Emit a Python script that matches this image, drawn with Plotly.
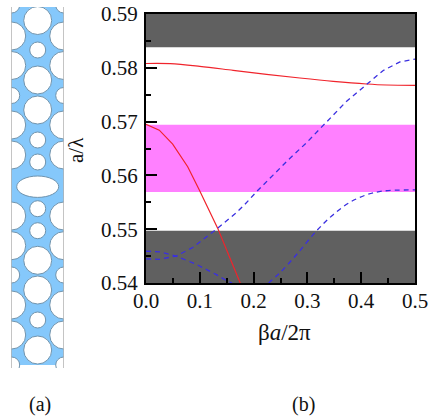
import plotly.graph_objects as go

# ---- panel (b): dispersion diagram ----
x_ticks = [0.0, 0.1, 0.2, 0.3, 0.4, 0.5]
x_tick_labels = ["0.0", "0.1", "0.2", "0.3", "0.4", "0.5"]
y_ticks = [0.54, 0.55, 0.56, 0.57, 0.58, 0.59]
y_tick_labels = ["0.54", "0.55", "0.56", "0.57", "0.58", "0.59"]

red_upper_x = [0, .045, .1, .162, .224, .286, .348, .41, .447, .5]
red_upper_y = [.5808, .58077, .58027, .57953, .57879, .5781, .57748, .57699, .5768, .57674]

red_lower_x = [0, .0247, .0496, .0775, .0991, .1165, .1332, .1537, .1747, .178]
red_lower_y = [.5695, .5684, .5658, .5616, .5573, .5537, .5502, .5452, .5401, .5393]

blue_rise_x = [0, .0247, .0558, .0868, .1332, .1673, .1827, .2057, .2367, .2646, .2986, .3327, .373, .41, .441, .472, .5]
blue_rise_y = [.5445, .5444, .545, .5466, .5502, .553, .5545, .557, .5601, .5629, .5661, .5697, .5738, .5769, .5795, .5811, .5816]

blue_fall_x = [0, .0247, .0558, .0929, .1301, .1487, .16]
blue_fall_y = [.5459, .5458, .545, .5435, .5416, .5405, .54]

blue_upper_x = [.228, .2336, .249, .28, .317, .348, .379, .41, .441, .5]
blue_upper_y = [.54, .5405, .5419, .5453, .5497, .5527, .555, .5564, .5571, .5573]

dark_bands = [(.54, .5497), (.5838, .59)]
gap_band = (.5569, .5694)

# ---- panel (a): photonic-crystal strip, in its own unit frame ----
strip_x = [11, 64]
strip_y = [7, 368]
strip_fill_end = 365
centre_x = 37.7
side_x = [11.7, 63.7]
big_centre_y = [20.5, 80, 110, 260.3, 290, 350]
small_centre_y = [50, 140, 162, 208.7, 230.7, 320]
big_side_y = [36, 65.5, 125, 155, 216, 245.7, 305, 335]
small_side_y = [5, 95.5, 275, 365]
ellipse_y = 186.7
big_r, small_r, ellipse_rx, ellipse_ry = 14, 8, 21, 10.7

W, H = 429, 418
SERIF = "Liberation Serif"
HOLE_LINE = dict(color="#6f93ad", width=1)

shapes = []
for lo, hi in dark_bands:
    shapes.append(dict(type="rect", xref="x", yref="y", x0=0, x1=.5, y0=lo, y1=hi,
                       fillcolor="#606060", line_width=0, layer="below"))
shapes.append(dict(type="rect", xref="x", yref="y", x0=0, x1=.5, y0=gap_band[0], y1=gap_band[1],
                   fillcolor="#ff80ff", line_width=0, layer="below"))

shapes.append(dict(type="rect", xref="x2", yref="y2", x0=strip_x[0], x1=strip_x[1],
                   y0=strip_y[0], y1=strip_fill_end, fillcolor="#85c8fb", line_width=0, layer="below"))


def ellipse(cx, cy, rx, ry):
    return dict(type="circle", xref="x2", yref="y2", x0=cx - rx, x1=cx + rx,
                y0=cy - ry, y1=cy + ry, fillcolor="white", line=HOLE_LINE, layer="below")


for cy in big_centre_y:
    shapes.append(ellipse(centre_x, cy, big_r, big_r))
for cy in small_centre_y:
    shapes.append(ellipse(centre_x, cy, small_r, small_r))
for sx in side_x:
    for cy in big_side_y:
        shapes.append(ellipse(sx, cy, big_r, big_r))
    for cy in small_side_y:
        shapes.append(ellipse(sx, cy, small_r, small_r))
shapes.append(ellipse(centre_x, ellipse_y, ellipse_rx, ellipse_ry))
for sx in strip_x:
    shapes.append(dict(type="line", xref="x2", yref="y2", x0=sx, x1=sx, y0=strip_y[0], y1=strip_y[1],
                       line=dict(color="#b0b0b0", width=1.5)))

fig = go.Figure()
RED = dict(color="#f0242c", width=1.2)
BLUE = dict(color="#3a2fe0", width=1.3, dash="5px,4px")
for xs, ys, style, shape in [
    (red_upper_x, red_upper_y, RED, "spline"),
    (red_lower_x, red_lower_y, RED, "linear"),
    (blue_rise_x, blue_rise_y, BLUE, "linear"),
    (blue_fall_x, blue_fall_y, BLUE, "linear"),
    (blue_upper_x, blue_upper_y, BLUE, "spline"),
]:
    fig.add_trace(go.Scatter(x=xs, y=ys, mode="lines", line=dict(shape=shape, **style),
                             showlegend=False, hoverinfo="skip"))
fig.add_trace(go.Scatter(x=[None], y=[None], xaxis="x2", yaxis="y2", showlegend=False))

axis_common = dict(showline=True, linecolor="black", linewidth=2, mirror=True, ticks="inside",
                   ticklen=11, tickwidth=2, tickcolor="black", showgrid=False, zeroline=False,
                   automargin=False, tickfont=dict(family=SERIF, size=21, color="#111"))
fig.update_layout(
    width=W, height=H, margin=dict(l=0, r=0, t=0, b=0),
    paper_bgcolor="white", plot_bgcolor="white", shapes=shapes,
    xaxis=dict(domain=[146 / W, 415 / W], range=[0, .5], tickvals=x_ticks, ticktext=x_tick_labels,
               minor=dict(dtick=.05, tick0=0, ticks="inside", ticklen=5, tickwidth=2, tickcolor="black"),
               ticklabelstandoff=-2, **axis_common),
    yaxis=dict(domain=[1 - 283 / H, 1 - 14 / H], range=[.54, .59], tickvals=y_ticks, ticktext=y_tick_labels,
               minor=dict(dtick=.005, tick0=.54, ticks="inside", ticklen=5, tickwidth=2, tickcolor="black"),
               ticklabelstandoff=2, **axis_common),
    xaxis2=dict(domain=[strip_x[0] / W, strip_x[1] / W], range=strip_x, visible=False, anchor="y2", automargin=False),
    yaxis2=dict(domain=[1 - strip_y[1] / H, 1 - strip_y[0] / H], range=[strip_y[1], strip_y[0]],
                visible=False, anchor="x2", automargin=False),
    annotations=[
        dict(text="(a)", xref="paper", yref="paper", x=40 / W, y=1 - 404 / H, showarrow=False,
             xanchor="center", yanchor="middle", font=dict(family=SERIF, size=20, color="#111")),
        dict(text="(b)", xref="paper", yref="paper", x=303 / W, y=1 - 404 / H, showarrow=False,
             xanchor="center", yanchor="middle", font=dict(family=SERIF, size=20, color="#111")),
        dict(text="β<i>a</i>/2π", xref="paper", yref="paper", x=284 / W, y=1 - 332 / H, showarrow=False,
             xanchor="center", yanchor="middle", font=dict(family=SERIF, size=23, color="#111")),
        dict(text="a/λ", xref="paper", yref="paper", x=76 / W, y=1 - 150 / H, showarrow=False, textangle=-90,
             xanchor="center", yanchor="middle", font=dict(family=SERIF, size=21, color="#111")),
    ],
)

fig.write_html("out.html", config={"displayModeBar": False},
               post_script="document.body.style.margin='0';document.body.style.overflow='hidden';")
